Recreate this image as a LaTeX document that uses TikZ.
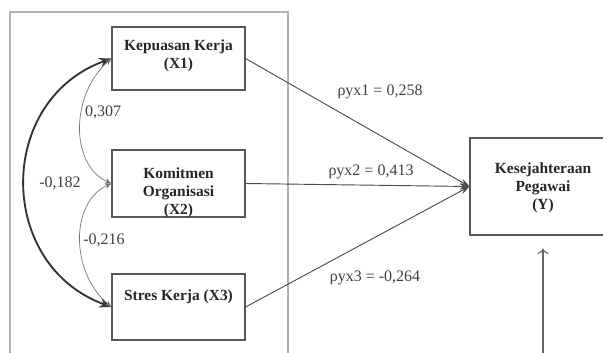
\documentclass[tikz,border=0pt]{standalone}
\usepackage{fontspec}
\setmainfont{Liberation Serif}
\usetikzlibrary{arrows.meta}
\newcommand{\coefLabel}[4]{%%
  \node[labelStyle] (#1) at (#2,#3) {#4};
}

\begin{document}
\begin{tikzpicture}[%%
  x=0.75pt,y=-0.75pt,%%
  frameStyle/.style={draw=black!30,line width=0.8pt},%%
  boxStyle/.style={rectangle,draw=black!65,line width=0.9pt,inner sep=0pt},%%
  titleStyle/.style={align=center,font=\fontsize{11.6}{13.5}\selectfont\bfseries,text=black!85},%%
  labelStyle/.style={font=\fontsize{12}{13}\selectfont,text=black!75},%%
  pathStyle/.style={-{Stealth[length=7pt,width=5pt]},draw=black!70,line width=0.7pt},%%
  corrStyle/.style={{Stealth[length=5pt,width=4pt]}-{Stealth[length=5pt,width=4pt]},draw=black!55,line width=0.5pt},%%
  thickCorrStyle/.style={{Stealth[length=9pt,width=7pt]}-{Stealth[length=9pt,width=7pt]},draw=black!80,line width=1.4pt},%%
  errStyle/.style={-{To[length=4pt]},draw=black!60,line width=0.8pt}
]
%%
%%
\pgfmathsetmacro{\xX}{178.5}
\pgfmathsetmacro{\xY}{543}
\pgfmathsetmacro{\yA}{58.5}
\pgfmathsetmacro{\yB}{183.5}
\pgfmathsetmacro{\yC}{307}
\pgfmathsetmacro{\yY}{186.5}
\coordinate (err) at (\xY,370);
\clip (0,0) rectangle (603,353);
%%
%% The frame round the independent variables.
\draw[frameStyle] (10,12) rectangle (288,370);
%%
%% The independent variables.
\node[boxStyle,minimum width=99.75pt,minimum height=47.25pt] (x1) at (\xX,\yA) {};
\node[titleStyle] (x1text) at (\xX,56) {Kepuasan Kerja\\(X1)};
\node[boxStyle,minimum width=99.75pt,minimum height=50.25pt] (x2) at (\xX,\yB) {};
\node[titleStyle] (x2text) at (\xX,193) {Komitmen\\Organisasi\\(X2)};
\node[boxStyle,minimum width=99.75pt,minimum height=49.5pt] (x3) at (\xX,\yC) {};
\node[titleStyle] (x3text) at (\xX,297) {Stres Kerja (X3)};
%%
%% The dependent variable.
\node[boxStyle,minimum width=109.5pt,minimum height=72.75pt] (y) at (\xY,\yY) {};
\node[titleStyle] (ytext) at (\xY,188) {Kesejahteraan\\Pegawai\\(Y)};
%%
%% The paths to Y.
\draw[pathStyle] (x1.east) -- (y.west);
\draw[pathStyle] (x2.east) -- (y.west);
\draw[pathStyle] (x3.east) -- (y.west);
\coefLabel{p1}{380}{92}{ρyx1 = 0,258}
\coefLabel{p2}{371}{172}{ρyx2 = 0,413}
\coefLabel{p3}{375}{278}{ρyx3 = -0,264}
%%
%% The correlations between the independent variables.
\draw[thickCorrStyle] (x1.west) .. controls (-4,100) and (-4,265) .. (x3.west);
\draw[corrStyle] (x2.west) .. controls (70,165) and (70,95) .. (x1.west);
\draw[corrStyle] (x2.west) .. controls (70,202) and (70,272) .. (x3.west);
\coefLabel{r12}{103}{112}{0,307}
\coefLabel{r23}{104}{240}{-0,216}
\coefLabel{r13}{60}{183}{-0,182}
%%
%% The residual of Y.
\draw[errStyle,shorten >=9.75pt] (err) -- (y.south);
\end{tikzpicture}
\end{document}
